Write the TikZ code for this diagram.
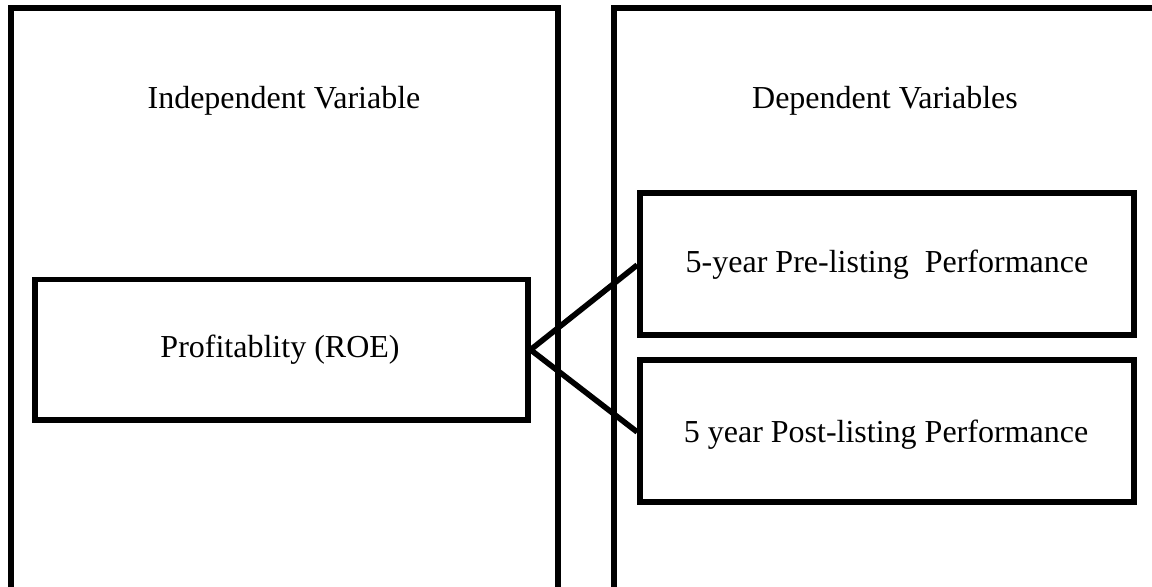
\documentclass[tikz,border=0pt]{standalone}
\usepackage{fontspec}
\setmainfont{Liberation Serif}
\begin{document}
\begin{tikzpicture}[x=0.5pt,y=-0.5pt,
  frame/.style={draw=black,line width=2.8pt},
  lbl/.style={font=\fontsize{16}{19}\selectfont,anchor=base,inner sep=0pt},
  link/.style={draw=black,line width=2.8pt}]
\useasboundingbox (0,0) rectangle (1152,586);
\fill[white] (0,0) rectangle (1152,586);
% outer panels
\draw[frame] (11,620) -- (11,8) -- (558,8) -- (558,620);
\draw[frame] (614,620) -- (614,8) -- (1200,8);
\node[lbl] (indep) at (284,108) {Independent Variable};
\node[lbl] (dep) at (885,108) {Dependent Variables};
% inner boxes
\node[frame,minimum width=492.5pt/2,minimum height=140.5pt/2,inner sep=0pt] (roe) at (281.5,349.75) {};
\node[lbl] (roet) at (280,357) {Profitablity (ROE)};
\node[frame,minimum width=494pt/2,minimum height=142pt/2,inner sep=0pt] (pre) at (887,264) {};
\node[lbl] (pret) at (887,272) {5-year Pre-listing\ \ Performance};
\node[frame,minimum width=494pt/2,minimum height=142pt/2,inner sep=0pt] (post) at (887,431) {};
\node[lbl] (postt) at (886,442) {5 year Post-listing Performance};
% connectors
\coordinate (apex) at (roe.east);
\coordinate (preend) at ([yshift=-0.5pt]pre.west);
\coordinate (postend) at ([yshift=-0.5pt]post.west);
\draw[link] (apex) -- (preend);
\draw[link] (apex) -- (postend);
\end{tikzpicture}
\end{document}
